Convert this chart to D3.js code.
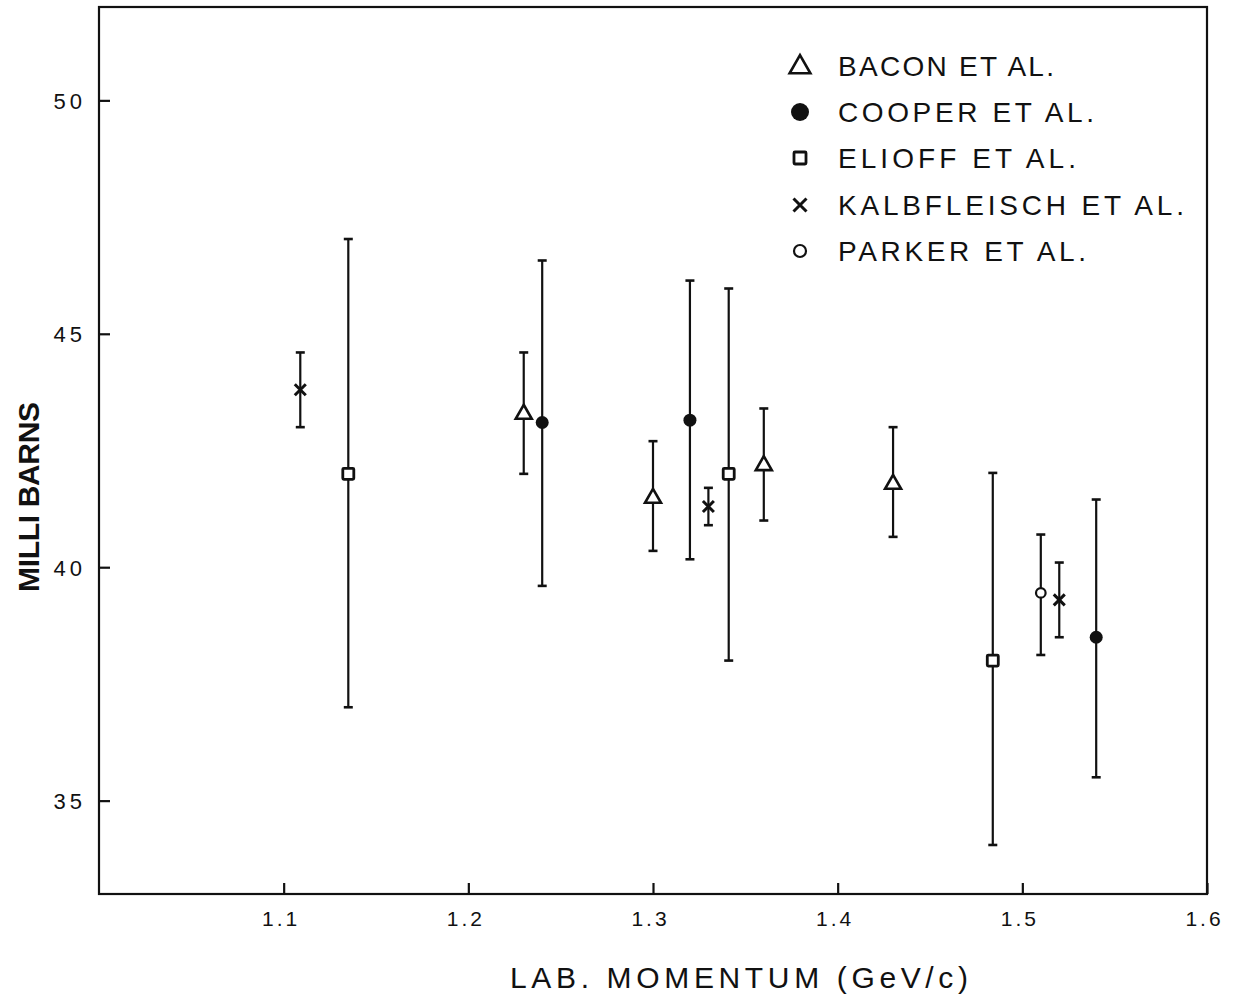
<!DOCTYPE html>
<html>

<head>
    <title>Cross section vs lab momentum</title>
    <script src="https://d3js.org/d3.v7.min.js"></script>
    <style>
        body { margin: 0; background: #fff; }
        text { font-family: "Liberation Sans", Arial, sans-serif; fill: #111; }
    </style>
    <script>
    // values: momentum (GeV/c), cross section (mb), error bar ends
    var bacon_p = [1.23, 1.30, 1.36, 1.43];
    var bacon_mb = [43.3, 41.5, 42.2, 41.8];
    var bacon_lo = [42.0, 40.35, 41.0, 40.65];
    var bacon_hi = [44.6, 42.7, 43.4, 43.0];

    var cooper_p = [1.24, 1.32, 1.54];
    var cooper_mb = [43.1, 43.15, 38.5];
    var cooper_lo = [39.6, 40.17, 35.5];
    var cooper_hi = [46.57, 46.14, 41.45];

    var elioff_p = [1.135, 1.341, 1.484];
    var elioff_mb = [42.0, 42.0, 38.0];
    var elioff_lo = [37.0, 38.0, 34.05];
    var elioff_hi = [47.03, 45.97, 42.02];

    var kalb_p = [1.109, 1.33, 1.52];
    var kalb_mb = [43.8, 41.3, 39.3];
    var kalb_lo = [43.0, 40.9, 38.5];
    var kalb_hi = [44.6, 41.7, 40.1];

    var parker_p = [1.51];
    var parker_mb = [39.45];
    var parker_lo = [38.12];
    var parker_hi = [40.7];

    var xTicks = [1.1, 1.2, 1.3, 1.4, 1.5, 1.6];
    var xTickLabels = ["1.1", "1.2", "1.3", "1.4", "1.5", "1.6"];
    var yTicks = [35, 40, 45, 50];

    var legendNames = ["BACON ET AL.", "COOPER ET AL.", "ELIOFF ET AL.", "KALBFLEISCH ET AL.", "PARKER ET AL."];
    var legendKinds = ["triangle", "dot", "square", "cross", "ring"];

    function build(p, mb, lo, hi) {
        return p.map(function(d, i) {
            return { p: d, mb: mb[i], lo: lo[i], hi: hi[i] };
        });
    }

    // draws one marker of a kind at (0,0) inside group g
    function marker(g, kind, big) {
        var s = big ? 1.3 : 1;
        if (kind == "triangle") {
            var w = 8 * s, h = 14 * s;
            g.append("path").attr("d", "M0," + (-h * 0.6) + "L" + w + "," + (h * 0.4) + "L" + (-w) + "," + (h * 0.4) + "Z")
                .attr("fill", "#fff").attr("stroke", "#111").attr("stroke-width", 2.6).attr("stroke-linejoin", "miter");
        } else if (kind == "dot") {
            g.append("circle").attr("r", big ? 9 : 6.5).attr("fill", "#111");
        } else if (kind == "square") {
            var a = big ? 6 : 5.5;
            g.append("rect").attr("x", -a).attr("y", -a).attr("width", 2 * a).attr("height", 2 * a)
                .attr("rx", 1).attr("fill", "#fff").attr("stroke", "#111").attr("stroke-width", 2.8);
        } else if (kind == "cross") {
            var c = big ? 6.5 : 5.5;
            g.append("path").attr("d", "M" + (-c) + "," + (-c) + "L" + c + "," + c + "M" + c + "," + (-c) + "L" + (-c) + "," + c)
                .attr("stroke", "#111").attr("stroke-width", 3).attr("fill", "none");
        } else {
            g.append("circle").attr("r", big ? 6 : 4.8).attr("fill", "#fff").attr("stroke", "#111").attr("stroke-width", 2.2);
        }
    }

    function draw() {
        var width = 1235, height = 998;
        var svg = d3.select("body").append("svg").attr("width", width).attr("height", height);

        var x = d3.scaleLinear().domain([1.0, 1.6]).range([99, 1207]);
        var y = d3.scaleLinear().domain([33, 52]).range([894, 7]);

        // frame
        svg.append("rect").attr("x", x(1.0)).attr("y", y(52)).attr("width", x(1.6) - x(1.0)).attr("height", y(33) - y(52))
            .attr("fill", "none").attr("stroke", "#111").attr("stroke-width", 2.2);

        var xAxis = d3.axisBottom(x).tickValues(xTicks).tickSize(-11).tickPadding(17)
            .tickFormat(function(d, i) { return xTickLabels[i]; });
        var gx = svg.append("g").attr("transform", "translate(0," + y(33) + ")").call(xAxis);
        gx.select(".domain").remove();
        gx.selectAll("line").attr("stroke", "#111").attr("stroke-width", 2.2);
        gx.selectAll("text").attr("font-size", 21).attr("letter-spacing", 3).attr("dx", -3).style("fill", "#111");

        var yAxis = d3.axisLeft(y).tickValues(yTicks).tickSize(-11).tickPadding(13);
        var gy = svg.append("g").attr("transform", "translate(" + x(1.0) + ",0)").call(yAxis);
        gy.select(".domain").remove();
        gy.selectAll("line").attr("stroke", "#111").attr("stroke-width", 2.2);
        gy.selectAll("text").attr("font-size", 22).attr("letter-spacing", 4).attr("dy", "0.36em").style("fill", "#111");

        // axis titles
        svg.append("text").attr("x", 510).attr("y", 988).attr("font-size", 30)
            .attr("textLength", 458).attr("lengthAdjust", "spacing")
            .text("LAB. MOMENTUM   (GeV/c)");
        svg.append("text").attr("transform", "translate(39,592) rotate(-90)").attr("font-size", 30)
            .attr("font-weight", "bold").attr("textLength", 190).attr("lengthAdjust", "spacing")
            .text("MILLI BARNS");

        var series = [
            { kind: "triangle", data: build(bacon_p, bacon_mb, bacon_lo, bacon_hi) },
            { kind: "dot", data: build(cooper_p, cooper_mb, cooper_lo, cooper_hi) },
            { kind: "square", data: build(elioff_p, elioff_mb, elioff_lo, elioff_hi) },
            { kind: "cross", data: build(kalb_p, kalb_mb, kalb_lo, kalb_hi) },
            { kind: "ring", data: build(parker_p, parker_mb, parker_lo, parker_hi) }
        ];

        var plot = svg.append("g");
        series.forEach(function(s) {
            var pts = plot.selectAll(null).data(s.data).enter().append("g");
            pts.append("line")
                .attr("x1", function(d) { return x(d.p); }).attr("x2", function(d) { return x(d.p); })
                .attr("y1", function(d) { return y(d.lo); }).attr("y2", function(d) { return y(d.hi); })
                .attr("stroke", "#111").attr("stroke-width", 2.2);
            [ "lo", "hi" ].forEach(function(k) {
                pts.append("line")
                    .attr("x1", function(d) { return x(d.p) - 4.5; }).attr("x2", function(d) { return x(d.p) + 4.5; })
                    .attr("y1", function(d) { return y(d[k]); }).attr("y2", function(d) { return y(d[k]); })
                    .attr("stroke", "#111").attr("stroke-width", 2.6);
            });
            pts.each(function(d) {
                var m = d3.select(this).append("g").attr("transform", "translate(" + x(d.p) + "," + y(d.mb) + ")");
                marker(m, s.kind, false);
            });
        });

        // legend
        var rowY = [66, 112, 158, 205, 251];
        var textW = [216, 256, 238, 346, 248];
        var legend = svg.append("g");
        legendNames.forEach(function(name, i) {
            var m = legend.append("g").attr("transform", "translate(800," + rowY[i] + ")");
            marker(m, legendKinds[i], true);
            legend.append("text").attr("x", 838).attr("y", rowY[i] + 10).attr("font-size", 28)
                .attr("textLength", textW[i]).attr("lengthAdjust", "spacing")
                .text(name);
        });
    }
    </script>
</head>

<body onload="draw()">
</body>

</html>
